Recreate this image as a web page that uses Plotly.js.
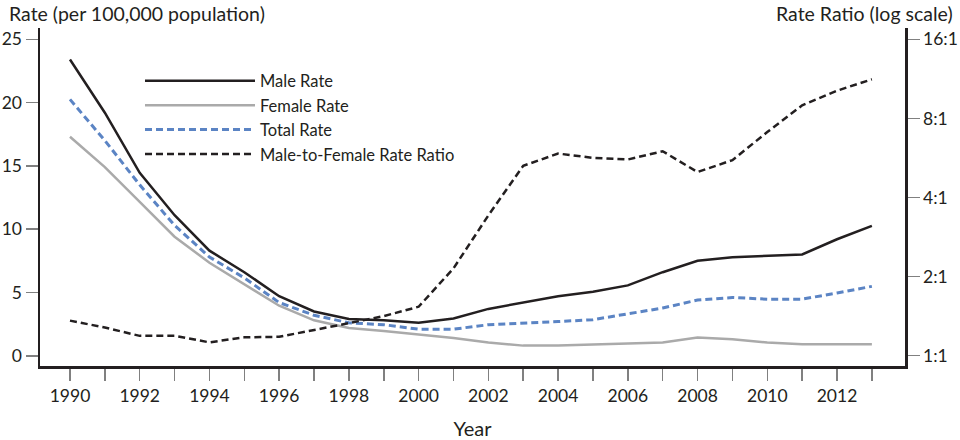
<!DOCTYPE html>
<html>
<head>
<meta charset="utf-8">
<script src="https://cdn.plot.ly/plotly-3.0.1.min.js"></script>
<style>html,body{margin:0;padding:0;background:#fff;}#chart{width:960px;height:440px;}</style>
</head>
<body>
<div id="chart"></div>
<script>
var years = [1990,1991,1992,1993,1994,1995,1996,1997,1998,1999,2000,2001,2002,2003,2004,2005,2006,2007,2008,2009,2010,2011,2012,2013];
var maleRate = [23.4,19.2,14.45,11.1,8.3,6.6,4.7,3.5,2.9,2.8,2.6,2.95,3.7,4.2,4.7,5.06,5.56,6.6,7.5,7.78,7.86,8.0,9.2,10.26];
var femaleRate = [17.3,14.9,12.15,9.4,7.35,5.65,3.95,2.8,2.2,1.95,1.7,1.4,1.05,0.8,0.8,0.9,0.96,1.05,1.45,1.3,1.05,0.9,0.9,0.9];
var totalRate = [20.25,17.0,13.5,10.3,7.8,6.15,4.2,3.2,2.6,2.45,2.1,2.1,2.45,2.55,2.7,2.85,3.3,3.77,4.4,4.6,4.47,4.47,4.96,5.48];
var rateRatio = [1.36,1.28,1.19,1.19,1.124,1.175,1.18,1.25,1.33,1.415,1.536,2.15,3.42,5.28,5.88,5.66,5.58,6.0,5.0,5.55,7.1,8.97,10.2,11.27];
var xTickLabels = ['1990','','1992','','1994','','1996','','1998','','2000','','2002','','2004','','2006','','2008','','2010','','2012',''];
var leftTicks = [0,5,10,15,20,25];
var rightTickVals = [1,2,4,8,16];
var rightTickLabels = ['1:1','2:1','4:1','8:1','16:1'];
var seriesNames = ['Male Rate','Female Rate','Total Rate','Male-to-Female Rate Ratio'];

var FONT = 'Lato, "Open Sans", sans-serif';
var INK = '#231f20';
var traces = [
  {x: years, y: maleRate, name: seriesNames[0], type: 'scatter', mode: 'lines',
   line: {color: INK, width: 2.5}},
  {x: years, y: femaleRate, name: seriesNames[1], type: 'scatter', mode: 'lines',
   line: {color: '#aaaaaa', width: 2.5}},
  {x: years, y: totalRate, name: seriesNames[2], type: 'scatter', mode: 'lines',
   line: {color: '#5b84c4', width: 3, dash: '7px,4px'}},
  {x: years, y: rateRatio, name: seriesNames[3], type: 'scatter', mode: 'lines', yaxis: 'y2',
   line: {color: INK, width: 2.5, dash: '7px,4px'}}
];

var tickFont = {family: FONT, size: 17.5, color: INK};
var layout = {
  width: 960, height: 440,
  margin: {l: 40, r: 55, t: 28, b: 74},
  paper_bgcolor: '#fff', plot_bgcolor: '#fff',
  font: {family: FONT, size: 16, color: INK},
  showlegend: true,
  legend: {x: 0.1156, y: 0.895, xanchor: 'left', yanchor: 'top', bgcolor: 'rgba(0,0,0,0)',
           font: {family: FONT, size: 16.5, color: INK}, itemwidth: 110, tracegroupgap: 0},
  xaxis: {
    range: [1989.14, 2013.95], tickmode: 'array', tickvals: years, ticktext: xTickLabels,
    ticks: 'outside', ticklen: 12, tickwidth: 1.5, tickcolor: '#808080',
    showline: true, linecolor: INK, linewidth: 2.5, showgrid: false, zeroline: false,
    tickfont: tickFont,
    title: {text: 'Year', font: {family: FONT, size: 20, color: INK}, standoff: 18}
  },
  yaxis: {
    range: [-0.81, 25.89], tickmode: 'array', tickvals: leftTicks,
    ticks: 'outside', ticklen: 12, tickwidth: 1.5, tickcolor: '#808080',
    showline: true, linecolor: INK, linewidth: 2.5, showgrid: false, zeroline: false,
    tickfont: tickFont
  },
  yaxis2: {
    type: 'log', overlaying: 'y', side: 'right',
    range: [-0.0392, 1.2472], tickmode: 'array', tickvals: rightTickVals, ticktext: rightTickLabels,
    ticks: 'outside', ticklen: 12, tickwidth: 1.5, tickcolor: '#808080',
    showline: true, linecolor: INK, linewidth: 2.5, showgrid: false, zeroline: false,
    tickfont: tickFont
  },
  annotations: [
    {text: 'Rate (per 100,000 population)', xref: 'paper', yref: 'paper', x: -0.038, y: 1.0,
     xanchor: 'left', yanchor: 'bottom', yshift: 1, showarrow: false,
     font: {family: FONT, size: 19.5, color: INK}},
    {text: 'Rate Ratio (log scale)', xref: 'paper', yref: 'paper', x: 1.058, y: 1.0,
     xanchor: 'right', yanchor: 'bottom', yshift: 1, showarrow: false,
     font: {family: FONT, size: 19.5, color: INK}}
  ]
};

Plotly.newPlot('chart', traces, layout, {displayModeBar: false, staticPlot: true});
</script>
</body>
</html>
